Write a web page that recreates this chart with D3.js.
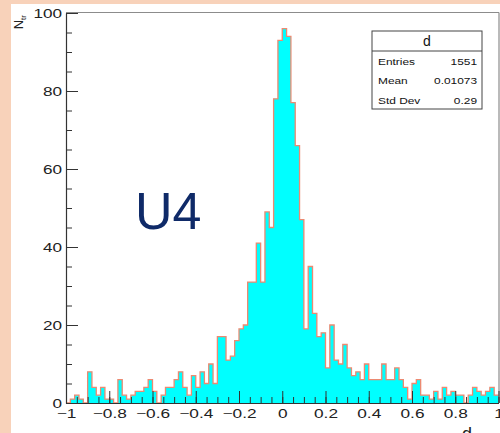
<!DOCTYPE html>
<html><head><meta charset="utf-8">
<script src="https://cdn.jsdelivr.net/npm/d3@7"></script>
<style>
html,body{margin:0;padding:0;background:#fff;}
svg{display:block;}
text{font-family:"Liberation Sans",Arial,Helvetica,sans-serif;}
</style></head>
<body>
<svg id="c" width="500" height="433"></svg>
<script>
// ---- data ----
const histName = "d";
const xMin = -1, xMax = 1, nBins = 100;
const counts = [
  0,1,2,1,0,8,4,2,4,1,
  1,0,6,2,1,2,3,3,4,6,
  3,0,2,4,4,6,8,4,2,7,
  4,8,5,10,5,17,17,11,12,16,
  19,20,31,31,41,31,49,45,78,93,
  96,94,77,66,47,19,35,23,17,18,
  9,20,11,10,15,9,7,8,6,10,
  6,6,6,10,6,6,9,6,4,1,
  5,6,2,2,1,3,1,4,2,3,
  2,2,0,2,4,3,2,3,4,2
];
const xTickValues = [-1,-0.8,-0.6,-0.4,-0.2,0,0.2,0.4,0.6,0.8,1];
const xTickLabels = ["\u22121","\u22120.8","\u22120.6","\u22120.4","\u22120.2","0","0.2","0.4","0.6","0.8","1"];
const yTickValues = [0,20,40,60,80,100];
const yTickLabels = ["0","20","40","60","80","100"];
const statLabels = ["Entries","Mean","Std Dev"];
const statValues = ["1551","0.01073","0.29"];
const xTitle = "d";
const annotation = "U4";

// ---- drawing ----
const svg = d3.select("#c");
svg.append("rect").attr("x",0).attr("y",0).attr("width",500).attr("height",433).attr("fill","#f8d2ba");
svg.append("rect").attr("x",11).attr("y",4).attr("width",489).attr("height",429).attr("fill","#ffffff");

const L = 66, R = 498.5, T = 13, B = 403;
const x = d3.scaleLinear().domain([xMin, xMax]).range([L, R]);
const y = d3.scaleLinear().domain([0, 100]).range([B, T]);

const bw = (xMax - xMin) / nBins;
const pts = counts.map((c,i)=>({e: xMin + i*bw, v: c}));
pts.push({e: xMax, v: counts[counts.length-1]});

const area = d3.area().x(d=>x(d.e)).y0(y(0)).y1(d=>y(d.v)).curve(d3.curveStepAfter);
const line = d3.line().x(d=>x(d.e)).y(d=>y(d.v)).curve(d3.curveStepAfter);

svg.append("path").datum(pts).attr("d",area).attr("fill","#00ffff");
svg.append("path").datum(pts).attr("d",line).attr("fill","none")
  .attr("stroke","#ec8a72").attr("stroke-width",1.3);

// frame
svg.append("line").attr("x1",L).attr("x2",499).attr("y1",T-0.5).attr("y2",T-0.5).attr("stroke","#8c8c8c").attr("stroke-width",1.2);
svg.append("line").attr("x1",499).attr("x2",499).attr("y1",T-0.5).attr("y2",B).attr("stroke","#8c8c8c").attr("stroke-width",1.2);

// y axis minor
const yMinor = d3.range(0, 101, 5);
svg.append("g").attr("transform",`translate(${L},0)`)
  .call(d3.axisLeft(y).tickValues(yMinor).tickSizeInner(-6).tickSizeOuter(0).tickFormat(""))
  .call(g=>{g.select(".domain").remove(); g.selectAll("line").attr("stroke","#333");});
// y axis major
const gy = svg.append("g").attr("transform",`translate(${L},0)`)
  .call(d3.axisLeft(y).tickValues(yTickValues).tickSizeInner(-12).tickSizeOuter(0).tickPadding(3)
        .tickFormat((d,i)=>yTickLabels[i]));
gy.select(".domain").attr("stroke","#333").attr("stroke-width",1.2);
gy.selectAll("line").attr("stroke","#333");
gy.selectAll("text").attr("font-size",13).attr("fill","#222")
  .attr("font-family","Liberation Sans, Arial, sans-serif")
  .attr("transform","scale(1.32,1)");

// x axis minor
const xMinor = d3.range(0, 41).map(i => xMin + i*0.05);
svg.append("g").attr("transform",`translate(0,${B})`)
  .call(d3.axisBottom(x).tickValues(xMinor).tickSizeInner(-6).tickSizeOuter(0).tickFormat(""))
  .call(g=>{g.select(".domain").remove(); g.selectAll("line").attr("stroke","#333");});
const gx = svg.append("g").attr("transform",`translate(0,${B})`)
  .call(d3.axisBottom(x).tickValues(xTickValues).tickSizeInner(-12).tickSizeOuter(0).tickPadding(6)
        .tickFormat((d,i)=>xTickLabels[i]));
gx.select(".domain").attr("stroke","#333").attr("stroke-width",1.2);
gx.selectAll("line").attr("stroke","#333");
gx.selectAll("text").attr("font-size",12.5).attr("fill","#222")
  .attr("font-family","Liberation Sans, Arial, sans-serif")
  .attr("transform","scale(1.38,1)");

// axis titles
svg.append("text").attr("x",467).attr("y",440).attr("text-anchor","middle")
  .attr("font-size",18).attr("fill","#222").text(xTitle);
const yt = svg.append("text").attr("transform","translate(23,15) rotate(-90)")
  .attr("text-anchor","end").attr("font-size",13).attr("fill","#222");
yt.append("tspan").text("N");
yt.append("tspan").attr("font-size",8).attr("dy",3).text("tr");

// stats box
const bx = 372, by = 31, bwid = 110, bh = 78, titleH = 20;
svg.append("rect").attr("x",bx).attr("y",by).attr("width",bwid).attr("height",bh)
  .attr("fill","#fff").attr("stroke","#444").attr("stroke-width",1);
svg.append("line").attr("x1",bx).attr("x2",bx+bwid).attr("y1",by+titleH).attr("y2",by+titleH)
  .attr("stroke","#444").attr("stroke-width",1);
svg.append("text").attr("x",bx+bwid/2).attr("y",by+15).attr("text-anchor","middle")
  .attr("font-size",14).attr("fill","#111").text(histName);
const rowY = d3.scalePoint().domain(statLabels).range([by+titleH+10.5, by+bh-8.5]);
statLabels.forEach((lab,i)=>{
  svg.append("text").attr("transform",`translate(${bx+6},${rowY(lab)+3}) scale(1.4,1)`)
    .attr("font-size",8.5).attr("fill","#111").text(lab);
  svg.append("text").attr("transform",`translate(${bx+bwid-5},${rowY(lab)+3}) scale(1.4,1)`)
    .attr("text-anchor","end").attr("font-size",8.5).attr("fill","#111").text(statValues[i]);
});

// annotation
svg.append("text").attr("x",135).attr("y",229).attr("font-family","Open Sans, sans-serif")
  .attr("font-size",52).attr("fill","#0f2a68").text(annotation);
</script>
</body></html>
